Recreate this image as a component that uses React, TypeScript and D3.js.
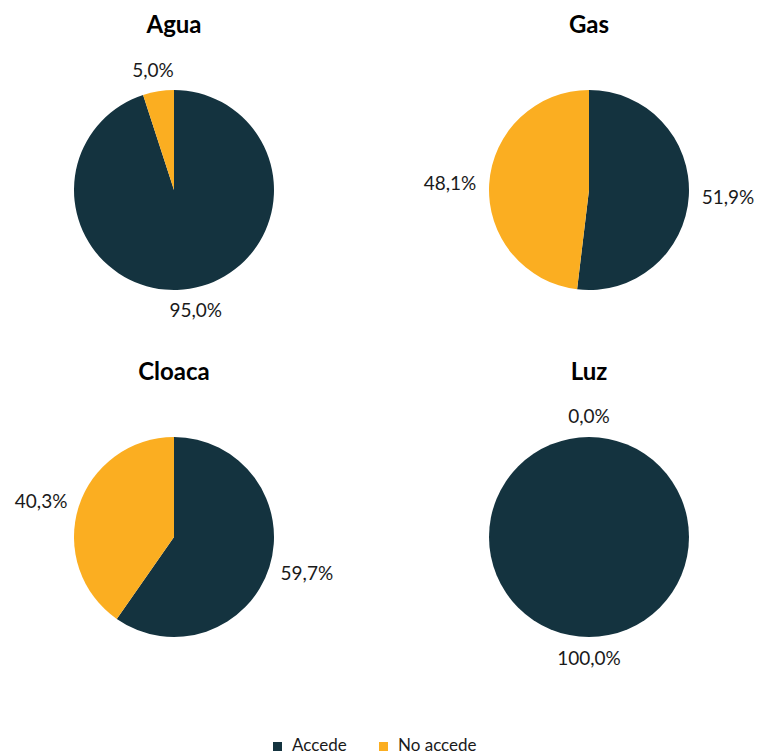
import React from "react";
import * as d3 from "d3";

const categories = ["Agua", "Gas", "Cloaca", "Luz"];
const accede = [95.0, 51.9, 59.7, 100.0];
const noAccede = [5.0, 48.1, 40.3, 0.0];
const seriesNames = ["Accede", "No accede"];
const seriesColors = ["#14333F", "#FBAE21"];

const W = 758;
const H = 756;
const R = 100;
const FONT = "Lato, 'Open Sans', sans-serif";

const colX = d3.scalePoint<number>().domain([0, 1]).range([174, 589]);
const rowY = d3.scalePoint<number>().domain([0, 1]).range([190, 537]);

const fmt = (v: number) => d3.format(".1f")(v).replace(".", ",") + "%";

function measure(text: string, size: number) {
  let w = 0;
  for (const ch of text) {
    if (/[0-9]/.test(ch)) w += 0.58;
    else if (ch === ",") w += 0.23;
    else if (ch === "%") w += 0.8;
    else w += 0.55;
  }
  return w * size;
}

function Pie({ idx }: { idx: number }) {
  const cx = colX(idx % 2)!;
  const cy = rowY(Math.floor(idx / 2))!;
  const values = [accede[idx], noAccede[idx]];
  const pie = d3.pie<number>().sort(null).value((d) => d);
  const arcs = pie(values);
  const arc = d3.arc<d3.PieArcDatum<number>>().innerRadius(0).outerRadius(R);
  const labelSize = 19;
  const h = 16;
  const gap = 13;
  return (
    <g>
      <text
        x={cx}
        y={cy - 157}
        textAnchor="middle"
        fontFamily={FONT}
        fontWeight="bold"
        fontSize={24}
        fill="#000"
      >
        {categories[idx]}
      </text>
      <g transform={`translate(${cx},${cy})`}>
        {arcs.map((a, i) =>
          a.endAngle - a.startAngle > 0 ? (
            <path key={i} d={arc(a) || ""} fill={seriesColors[i]} />
          ) : null
        )}
      </g>
      {arcs.map((a, i) => {
        const mid = (a.startAngle + a.endAngle) / 2;
        const dx = Math.sin(mid);
        const dy = -Math.cos(mid);
        const label = fmt(values[i]);
        const w = measure(label, labelSize);
        const px = cx + (R + gap) * dx;
        const py = cy + (R + gap) * dy;
        const bx = px + (dx * w) / 2;
        const by = py + (dy * h) / 2;
        return (
          <text
            key={"l" + i}
            x={bx}
            y={by + 7}
            textAnchor="middle"
            fontFamily={FONT}
            fontSize={labelSize}
            fill="#1a1a1a"
          >
            {label}
          </text>
        );
      })}
    </g>
  );
}

export default function App() {
  const legendX = d3.scaleOrdinal<string, number>().domain(seriesNames).range([273, 379]);
  return (
    <svg
      width={W}
      height={H}
      style={{ position: "absolute", left: 0, top: 0, background: "#fff" }}
    >
      <rect width={W} height={H} fill="#fff" />
      {categories.map((_, i) => (
        <Pie key={i} idx={i} />
      ))}
      {seriesNames.map((s, i) => (
        <g key={s}>
          <rect x={legendX(s)} y={742} width={9} height={9} fill={seriesColors[i]} />
          <text
            x={legendX(s) + 19}
            y={751}
            fontFamily={FONT}
            fontSize={17}
            fill="#1a1a1a"
          >
            {s}
          </text>
        </g>
      ))}
    </svg>
  );
}
